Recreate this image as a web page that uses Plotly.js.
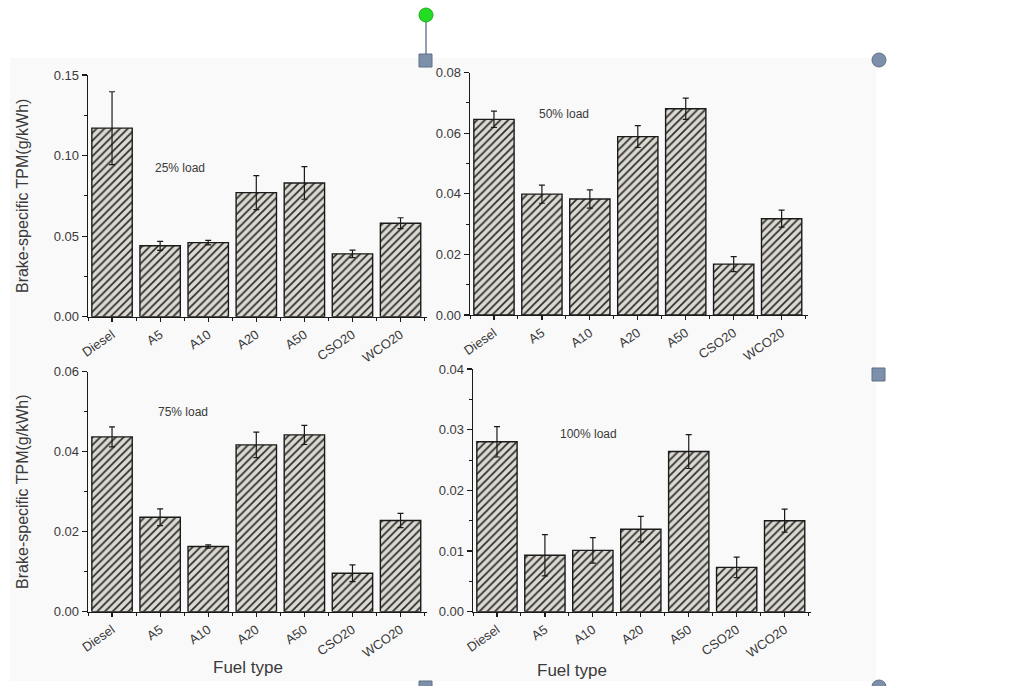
<!DOCTYPE html>
<html>
<head>
<meta charset="utf-8">
<script src="https://cdn.plot.ly/plotly-3.0.1.min.js"></script>
<style>
  html, body { margin: 0; padding: 0; background: #ffffff; }
  #chart { width: 1017px; height: 686px; }
</style>
</head>
<body>
<div id="chart"></div>
<script>
// Fuel blends on the x axis
const fuels = ['Diesel', 'A5', 'A10', 'A20', 'A50', 'CSO20', 'WCO20'];

// Brake-specific TPM (g/kWh) and error half-widths at each engine load
const tpm25  = [0.117, 0.044, 0.046, 0.077, 0.083, 0.039, 0.058];
const err25  = [0.0226, 0.0028, 0.0014, 0.0105, 0.0101, 0.0023, 0.0034];
const tpm50  = [0.0646, 0.0399, 0.0383, 0.0589, 0.0681, 0.0168, 0.0318];
const err50  = [0.0027, 0.0030, 0.0030, 0.0036, 0.0035, 0.0025, 0.0028];
const tpm75  = [0.0437, 0.0236, 0.0163, 0.0417, 0.0442, 0.0096, 0.0228];
const err75  = [0.0025, 0.0021, 0.0004, 0.0032, 0.0024, 0.0021, 0.0018];
const tpm100 = [0.0280, 0.0093, 0.0101, 0.0136, 0.0264, 0.0073, 0.0150];
const err100 = [0.0025, 0.0034, 0.0021, 0.0021, 0.0028, 0.0017, 0.0019];

const loadLabels = ['25% load', '50% load', '75% load', '100% load'];
const yTitle = 'Brake-specific TPM(g/kWh)';
const xTitle = 'Fuel type';

const W = 1017, H = 686;
const px = v => v / W;
const py = v => 1 - v / H;
const idx = fuels.map((_, i) => i);

function barTrace(vals, errs, n) {
  const s = n === 1 ? '' : String(n);
  return {
    type: 'bar',
    x: idx,
    y: vals,
    xaxis: 'x' + s,
    yaxis: 'y' + s,
    width: 0.84,
    marker: {
      color: '#dcd9d1',
      line: { color: '#1a1a1a', width: 1.4 },
      pattern: { shape: '/', fgcolor: '#2a2a2a', bgcolor: '#dcd9d1', size: 5.5, solidity: 0.3 }
    },
    error_y: { type: 'data', array: errs, visible: true, color: '#1a1a1a', thickness: 1.2, width: 3 },
    showlegend: false,
    hoverinfo: 'x+y'
  };
}

const tickFont = { family: 'Liberation Sans, Arial, sans-serif', size: 13, color: '#3a3a3a' };
const titleFont = { family: 'Liberation Sans, Arial, sans-serif', size: 16, color: '#3a3a3a' };

function xAxis(dom, anchor) {
  return {
    domain: dom, anchor: anchor,
    type: 'linear', range: [-0.5, 6.55],
    tickvals: idx, ticktext: fuels, tickangle: -35,
    ticks: 'outside', ticklen: 4, tickwidth: 1.2, tickcolor: '#1a1a1a',
    minor: { ticks: 'outside', dtick: 0.5, tick0: -0.5, ticklen: 3, tickwidth: 1, tickcolor: '#1a1a1a' },
    showline: true, linecolor: '#1a1a1a', linewidth: 1.4,
    showgrid: false, zeroline: false, fixedrange: true,
    tickfont: tickFont
  };
}

function yAxis(dom, anchor, range, dtick, withTitle) {
  const a = {
    domain: dom, anchor: anchor,
    range: range, dtick: dtick, tick0: 0, tickformat: '.2f',
    ticks: 'outside', ticklen: 5, tickwidth: 1.2, tickcolor: '#1a1a1a',
    minor: { ticks: 'outside', dtick: dtick / 2, ticklen: 3, tickwidth: 1, tickcolor: '#1a1a1a' },
    showline: true, linecolor: '#1a1a1a', linewidth: 1.4,
    showgrid: false, zeroline: false, fixedrange: true,
    tickfont: tickFont
  };
  if (withTitle) a.title = { text: yTitle, font: titleFont, standoff: 21 };
  return a;
}

const data = [
  barTrace(tpm25, err25, 1),
  barTrace(tpm50, err50, 2),
  barTrace(tpm75, err75, 3),
  barTrace(tpm100, err100, 4)
];

// handle markers of the figure frame
const handleBlue = '#7d90aa';
const shapes = [
  { type: 'rect', xref: 'paper', yref: 'paper', x0: px(10), x1: px(876), y0: py(681), y1: py(58),
    fillcolor: '#f9f9f9', line: { width: 0 }, layer: 'below' },
  { type: 'line', xref: 'paper', yref: 'paper', x0: px(426), x1: px(426), y0: py(20), y1: py(55),
    line: { color: '#6f7f99', width: 1.5 } },
  { type: 'circle', xref: 'paper', yref: 'paper', x0: px(419), x1: px(433), y0: py(22), y1: py(8),
    fillcolor: '#22dd22', line: { color: '#22aa22', width: 1 } },
  { type: 'rect', xref: 'paper', yref: 'paper', x0: px(419), x1: px(432), y0: py(67), y1: py(54),
    fillcolor: handleBlue, line: { color: '#5e6f88', width: 1 } },
  { type: 'circle', xref: 'paper', yref: 'paper', x0: px(872), x1: px(886), y0: py(67), y1: py(53),
    fillcolor: handleBlue, line: { color: '#5e6f88', width: 1 } },
  { type: 'rect', xref: 'paper', yref: 'paper', x0: px(872), x1: px(885), y0: py(381), y1: py(368),
    fillcolor: handleBlue, line: { color: '#5e6f88', width: 1 } },
  { type: 'rect', xref: 'paper', yref: 'paper', x0: px(419), x1: px(432), y0: py(692), y1: py(681),
    fillcolor: handleBlue, line: { color: '#5e6f88', width: 1 } },
  { type: 'circle', xref: 'paper', yref: 'paper', x0: px(872), x1: px(886), y0: py(693), y1: py(680),
    fillcolor: handleBlue, line: { color: '#5e6f88', width: 1 } }
];

const annFont = { family: 'Liberation Sans, Arial, sans-serif', size: 12, color: '#3a3a3a' };
const xTitleFont = { ...titleFont, size: 17 };
function label(text, x, y, font) {
  return { text: text, xref: 'paper', yref: 'paper', x: px(x), y: py(y),
           xanchor: 'center', yanchor: 'middle', showarrow: false, font: font };
}
const annotations = [
  label(loadLabels[0], 180, 168, annFont),
  label(loadLabels[1], 564, 114, annFont),
  label(loadLabels[2], 183, 412, annFont),
  label(loadLabels[3], 588, 434, annFont),
  // x-axis titles of the lower panels
  label(xTitle, 248, 667, xTitleFont),
  label(xTitle, 572, 670, xTitleFont)
];

const layout = {
  width: W, height: H,
  margin: { l: 0, r: 0, t: 0, b: 0 },
  paper_bgcolor: '#ffffff',
  plot_bgcolor: 'rgba(0,0,0,0)',
  showlegend: false,
  xaxis:  xAxis([px(88), px(427)], 'y'),
  yaxis:  yAxis([py(316.7), py(75)], 'x', [0, 0.15], 0.05, true),
  xaxis2: xAxis([px(470), px(808)], 'y2'),
  yaxis2: yAxis([py(315), py(72.7)], 'x2', [0, 0.08], 0.02, false),
  xaxis3: xAxis([px(88), px(427)], 'y3'),
  yaxis3: yAxis([py(611.7), py(371.7)], 'x3', [0, 0.06], 0.02, true),
  xaxis4: xAxis([px(473), px(811)], 'y4'),
  yaxis4: yAxis([py(611.7), py(369)], 'x4', [0, 0.04], 0.01, false),
  shapes: shapes,
  annotations: annotations
};

Plotly.newPlot('chart', data, layout, { displayModeBar: false, staticPlot: true });
</script>
</body>
</html>
